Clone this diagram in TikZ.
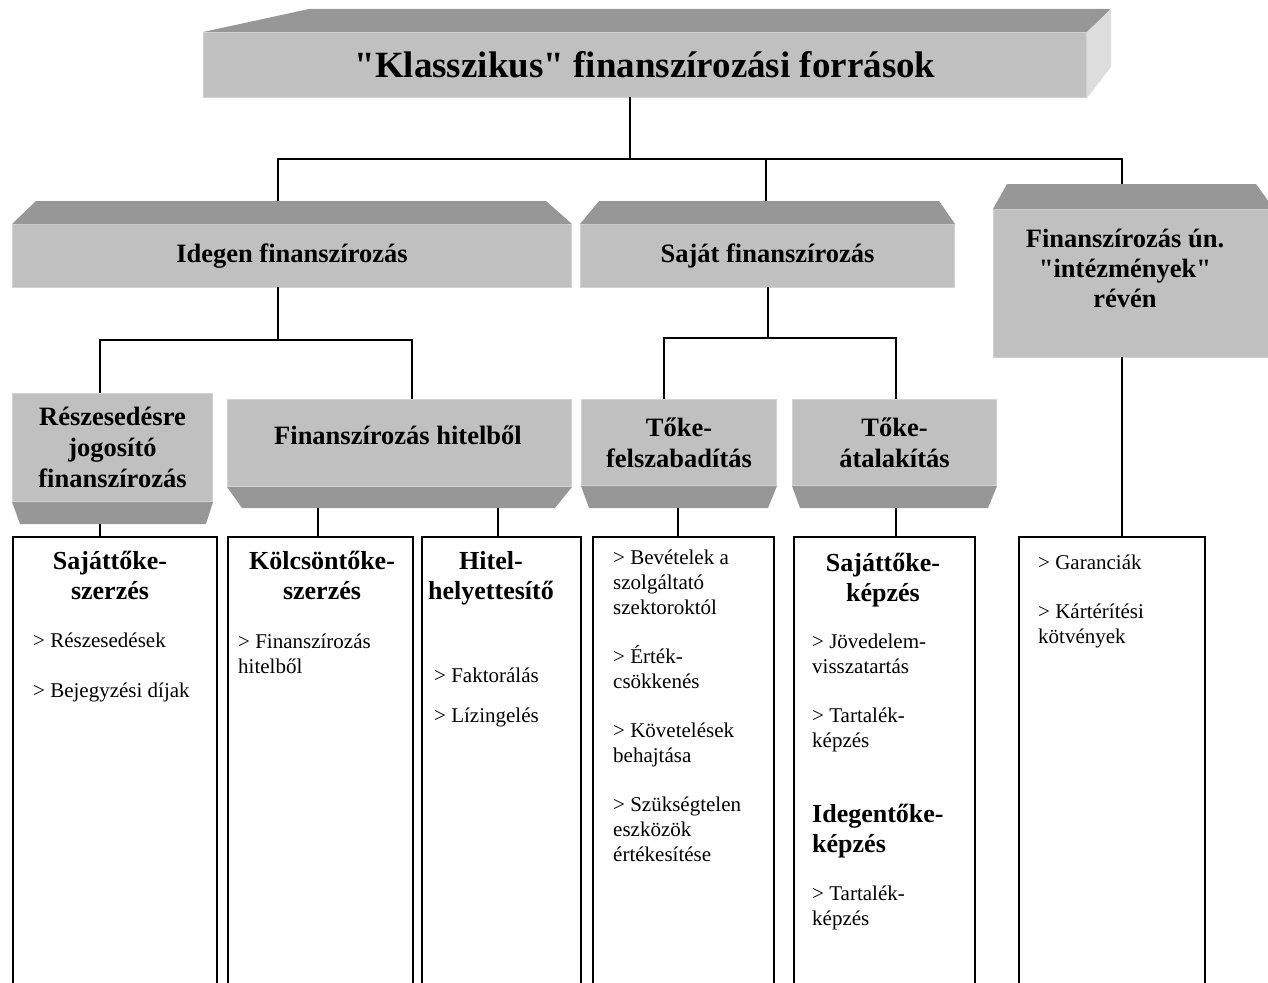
\documentclass[tikz,border=0pt]{standalone}
\usepackage{fontspec}
\setmainfont{Liberation Serif}[Ligatures=TeXOff]

\definecolor{facegray}{HTML}{C0C0C0}
\definecolor{rimgray}{HTML}{D2D2D2}
\definecolor{bevelgray}{HTML}{979797}
\definecolor{sidegray}{HTML}{DDDDDD}

\tikzset{
  face/.style={fill=facegray,draw=rimgray,line width=1pt,inner sep=0pt,anchor=north west,
    align=center,font=\fontsize{26.5}{31}\selectfont\bfseries},
  facetext/.style={align=center,inner sep=0pt,font=\fontsize{26.5}{30}\selectfont\bfseries},
  bevel/.style={fill=bevelgray},
  side/.style={fill=sidegray},
  conn/.style={line width=1.6pt},
  listbox/.style={draw,line width=1.6pt,inner sep=0pt,anchor=north west,minimum height=460pt},
  boxhead/.style={align=center,anchor=base,inner sep=0pt,font=\fontsize{26}{29.5}\selectfont\bfseries},
  items/.style={align=left,anchor=base west,inner sep=0pt,font=\fontsize{21}{25}\selectfont}
}

\begin{document}
\begin{tikzpicture}[x=1pt,y=-1pt]
  \useasboundingbox (0,0) rectangle (1268,982);

  % gray boxes
  \node[face,minimum width=883pt,minimum height=65pt,font=\fontsize{37}{42}\selectfont\bfseries]
    (forras) at (203,32) {"Klasszikus" finanszírozási források};
  \node[face,minimum width=559pt,minimum height=63pt] (idegen) at (12,224) {Idegen finanszírozás};
  \node[face,minimum width=374pt,minimum height=63pt] (sajat) at (580,224) {Saját finanszírozás};
  \node[face,minimum width=280pt,minimum height=148pt] (intezmeny) at (993,209) {};
  \node[face,minimum width=200pt,minimum height=108pt] (reszed) at (12,393)
    {Részesedésre\\jogosító\\finanszírozás};
  \node[face,minimum width=344pt,minimum height=87pt] (hitel) at (227,399) {};
  \node[face,minimum width=195pt,minimum height=86pt] (felszab) at (581,399) {Tőke-\\felszabadítás};
  \node[face,minimum width=204pt,minimum height=86pt] (atalak) at (792,399) {Tőke-\\átalakítás};

  \node[facetext] (intezmenytext) at (1125,268) {Finanszírozás ún.\\"intézmények"\\révén};
  \node[facetext] (hiteltext) at (398,435) {Finanszírozás hitelből};

  % bevels
  \fill[bevel] (forras.north west) -- (309,9) -- (1111,9) -- (forras.north east) -- cycle;
  \fill[side] (forras.north east) -- (1111,9) -- (1111,67) -- (forras.south east) -- cycle;
  \fill[bevel] (idegen.north west) -- (36,201) -- (546,201) -- (idegen.north east) -- cycle;
  \fill[bevel] (sajat.north west) -- (599,201) -- (939,201) -- (sajat.north east) -- cycle;
  \fill[bevel] (intezmeny.north west) -- (1007,184) -- (1256,184) -- (intezmeny.north east) -- cycle;
  \fill[bevel] (reszed.south west) -- (reszed.south east) -- (206,524) -- (20,524) -- cycle;
  \fill[bevel] (hitel.south west) -- (hitel.south east) -- (555,508) -- (242,508) -- cycle;
  \fill[bevel] (felszab.south west) -- (felszab.south east) -- (768,508) -- (589,508) -- cycle;
  \fill[bevel] (atalak.south west) -- (atalak.south east) -- (988,508) -- (800,508) -- cycle;

  % lower boxes
  \node[listbox,minimum width=204pt] (sajszerz) at (12,536) {};
  \node[listbox,minimum width=185pt] (kolcsszerz) at (227,536) {};
  \node[listbox,minimum width=159pt] (helyett) at (421,536) {};
  \node[listbox,minimum width=181pt] (bevetel) at (592,536) {};
  \node[listbox,minimum width=181pt] (tokekepz) at (793,536) {};
  \node[listbox,minimum width=186pt] (garancia) at (1018,536) {};

  % texts (base = last line)
  \node[boxhead] (sajszerzhead) at (110,599) {Sajáttőke-\\szerzés};
  \node[items] (sajszerzlist) at (33,697) {> Részesedések\\[25pt]> Bejegyzési díjak};
  \node[boxhead] (kolcsszerzhead) at (322,599) {Kölcsöntőke-\\szerzés};
  \node[items] (kolcsszerzlist) at (238,673) {> Finanszírozás\\hitelből};
  \node[boxhead] (helyetthead) at (491,599) {Hitel-\\helyettesítő};
  \node[items] (helyettlist) at (434,722) {> Faktorálás\\[15pt]> Lízingelés};
  \node[items] (bevetellist) at (613,861)
    {> Bevételek a\\szolgáltató\\szektoroktól\\[24pt]> Érték-\\csökkenés\\[24pt]%
     > Követelések\\behajtása\\[24pt]> Szükségtelen\\eszközök\\értékesítése};
  \node[boxhead] (tokekepzhead) at (883,601) {Sajáttőke-\\képzés};
  \node[items] (tokekepzlist) at (812,747) {> Jövedelem-\\visszatartás\\[24pt]> Tartalék-\\képzés};
  \node[boxhead,align=left,anchor=base west] (idegenkepzhead) at (812,852) {Idegentőke-\\képzés};
  \node[items] (idegenkepzlist) at (812,925) {> Tartalék-\\képzés};
  \node[items] (garancialist) at (1038,643) {> Garanciák\\[24pt]> Kártérítési\\kötvények};

  % connector points
  \coordinate (forrasfoot) at (630,97);
  \coordinate (bar0) at (630,159);
  \coordinate (idegentop) at (278,201);
  \coordinate (sajattop) at (766,201);
  \coordinate (intezmenytop) at (1122,184);
  \coordinate (idegenfoot) at (278,287);
  \coordinate (bar1) at (278,340);
  \coordinate (sajatfoot) at (768,287);
  \coordinate (bar2) at (768,338);
  \coordinate (intezmenyfoot) at (1122,357);
  \coordinate (reszedtop) at (100,393);
  \coordinate (hiteltop) at (412,399);
  \coordinate (felszabtop) at (664,399);
  \coordinate (atalaktop) at (896,399);
  \coordinate (reszedfoot) at (100,524);
  \coordinate (hitelfootA) at (318,508);
  \coordinate (hitelfootB) at (498,508);
  \coordinate (felszabfoot) at (678,508);
  \coordinate (atalakfoot) at (896,508);

  % connectors
  \draw[conn] (forrasfoot) -- (bar0);
  \draw[conn] (idegentop) |- (bar0) -| (intezmenytop);
  \draw[conn] (sajattop) -- (sajattop |- bar0);
  \draw[conn] (idegenfoot) -- (bar1);
  \draw[conn] (reszedtop) |- (bar1) -| (hiteltop);
  \draw[conn] (sajatfoot) -- (bar2);
  \draw[conn] (felszabtop) |- (bar2) -| (atalaktop);
  \draw[conn] (intezmenyfoot) -- (intezmenyfoot |- garancia.north);
  \draw[conn] (reszedfoot) -- (reszedfoot |- sajszerz.north);
  \draw[conn] (hitelfootA) -- (hitelfootA |- kolcsszerz.north);
  \draw[conn] (hitelfootB) -- (hitelfootB |- helyett.north);
  \draw[conn] (felszabfoot) -- (felszabfoot |- bevetel.north);
  \draw[conn] (atalakfoot) -- (atalakfoot |- tokekepz.north);

\end{tikzpicture}
\end{document}
